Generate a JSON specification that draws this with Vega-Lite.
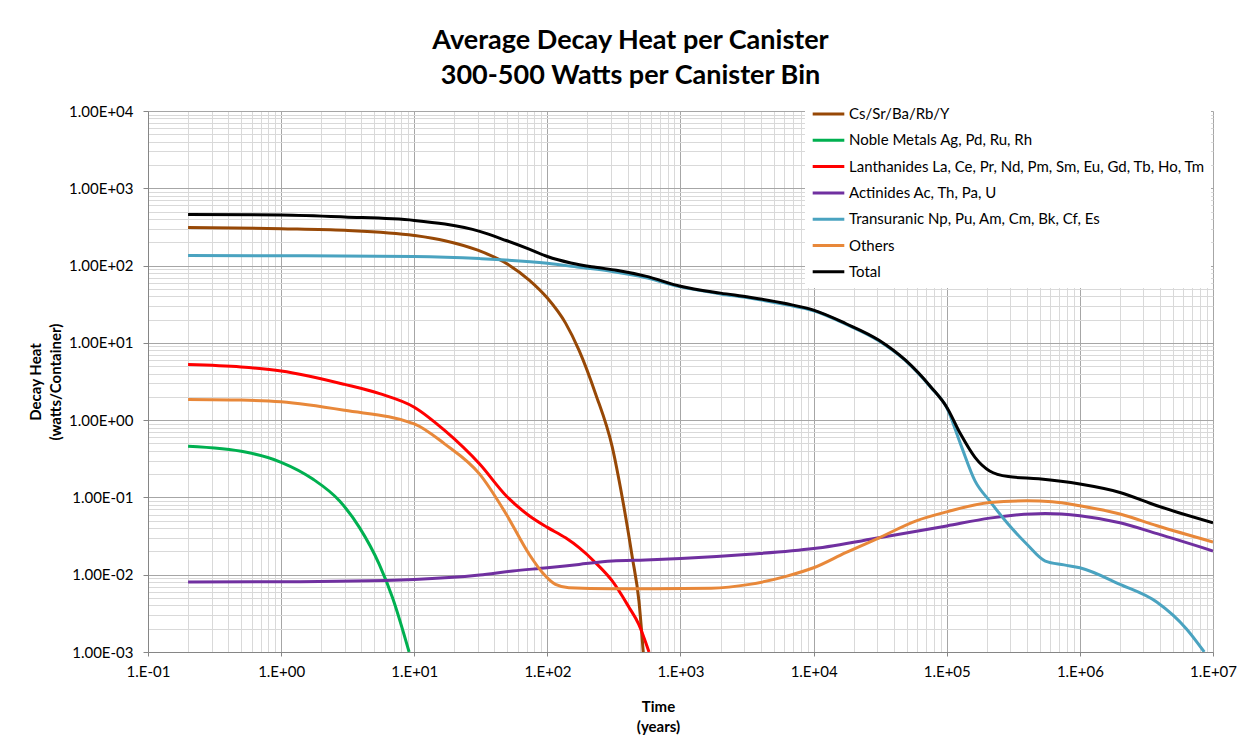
{
  "$schema": "https://vega.github.io/schema/vega-lite/v6.json",
  "width": 1065,
  "height": 541,
  "autosize": "none",
  "padding": {"left": 148, "top": 111, "right": 37, "bottom": 90},
  "background": "white",
  "title": {
    "text": ["Average Decay Heat per Canister", "300-500 Watts per Canister Bin"],
    "font": "Lato",
    "fontSize": 27,
    "fontWeight": "bold",
    "color": "#000000",
    "lineHeight": 35,
    "offset": 8,
    "dx": -50
  },
  "config": {
    "view": {"stroke": null},
    "font": "Lato"
  },
  "data": {
    "values": [
      {"s": "Cs/Sr/Ba/Rb/Y", "t": 0.2, "v": 312},
      {"s": "Cs/Sr/Ba/Rb/Y", "t": 1, "v": 300},
      {"s": "Cs/Sr/Ba/Rb/Y", "t": 3, "v": 286},
      {"s": "Cs/Sr/Ba/Rb/Y", "t": 10, "v": 245},
      {"s": "Cs/Sr/Ba/Rb/Y", "t": 17, "v": 210},
      {"s": "Cs/Sr/Ba/Rb/Y", "t": 30, "v": 158},
      {"s": "Cs/Sr/Ba/Rb/Y", "t": 50, "v": 105},
      {"s": "Cs/Sr/Ba/Rb/Y", "t": 73, "v": 65},
      {"s": "Cs/Sr/Ba/Rb/Y", "t": 100, "v": 38},
      {"s": "Cs/Sr/Ba/Rb/Y", "t": 137, "v": 18},
      {"s": "Cs/Sr/Ba/Rb/Y", "t": 173, "v": 8},
      {"s": "Cs/Sr/Ba/Rb/Y", "t": 230, "v": 2.2},
      {"s": "Cs/Sr/Ba/Rb/Y", "t": 307, "v": 0.45},
      {"s": "Cs/Sr/Ba/Rb/Y", "t": 365, "v": 0.1},
      {"s": "Cs/Sr/Ba/Rb/Y", "t": 434, "v": 0.017},
      {"s": "Cs/Sr/Ba/Rb/Y", "t": 487, "v": 0.0046},
      {"s": "Cs/Sr/Ba/Rb/Y", "t": 525, "v": 0.001},

      {"s": "Noble Metals Ag, Pd, Ru, Rh", "t": 0.2, "v": 0.459},
      {"s": "Noble Metals Ag, Pd, Ru, Rh", "t": 0.55, "v": 0.384},
      {"s": "Noble Metals Ag, Pd, Ru, Rh", "t": 1, "v": 0.285},
      {"s": "Noble Metals Ag, Pd, Ru, Rh", "t": 1.73, "v": 0.173},
      {"s": "Noble Metals Ag, Pd, Ru, Rh", "t": 2.74, "v": 0.0905},
      {"s": "Noble Metals Ag, Pd, Ru, Rh", "t": 3.87, "v": 0.041},
      {"s": "Noble Metals Ag, Pd, Ru, Rh", "t": 5.46, "v": 0.0136},
      {"s": "Noble Metals Ag, Pd, Ru, Rh", "t": 6.88, "v": 0.005},
      {"s": "Noble Metals Ag, Pd, Ru, Rh", "t": 9.15, "v": 0.001},

      {"s": "Lanthanides La, Ce, Pr, Nd, Pm, Sm, Eu, Gd, Tb, Ho, Tm", "t": 0.2, "v": 5.24},
      {"s": "Lanthanides La, Ce, Pr, Nd, Pm, Sm, Eu, Gd, Tb, Ho, Tm", "t": 0.5, "v": 4.87},
      {"s": "Lanthanides La, Ce, Pr, Nd, Pm, Sm, Eu, Gd, Tb, Ho, Tm", "t": 1, "v": 4.33},
      {"s": "Lanthanides La, Ce, Pr, Nd, Pm, Sm, Eu, Gd, Tb, Ho, Tm", "t": 3, "v": 2.9},
      {"s": "Lanthanides La, Ce, Pr, Nd, Pm, Sm, Eu, Gd, Tb, Ho, Tm", "t": 5.5, "v": 2.2},
      {"s": "Lanthanides La, Ce, Pr, Nd, Pm, Sm, Eu, Gd, Tb, Ho, Tm", "t": 10, "v": 1.47},
      {"s": "Lanthanides La, Ce, Pr, Nd, Pm, Sm, Eu, Gd, Tb, Ho, Tm", "t": 17, "v": 0.73},
      {"s": "Lanthanides La, Ce, Pr, Nd, Pm, Sm, Eu, Gd, Tb, Ho, Tm", "t": 31, "v": 0.27},
      {"s": "Lanthanides La, Ce, Pr, Nd, Pm, Sm, Eu, Gd, Tb, Ho, Tm", "t": 49, "v": 0.105},
      {"s": "Lanthanides La, Ce, Pr, Nd, Pm, Sm, Eu, Gd, Tb, Ho, Tm", "t": 73, "v": 0.058},
      {"s": "Lanthanides La, Ce, Pr, Nd, Pm, Sm, Eu, Gd, Tb, Ho, Tm", "t": 100, "v": 0.041},
      {"s": "Lanthanides La, Ce, Pr, Nd, Pm, Sm, Eu, Gd, Tb, Ho, Tm", "t": 137, "v": 0.030},
      {"s": "Lanthanides La, Ce, Pr, Nd, Pm, Sm, Eu, Gd, Tb, Ho, Tm", "t": 173, "v": 0.0224},
      {"s": "Lanthanides La, Ce, Pr, Nd, Pm, Sm, Eu, Gd, Tb, Ho, Tm", "t": 230, "v": 0.0143},
      {"s": "Lanthanides La, Ce, Pr, Nd, Pm, Sm, Eu, Gd, Tb, Ho, Tm", "t": 307, "v": 0.0083},
      {"s": "Lanthanides La, Ce, Pr, Nd, Pm, Sm, Eu, Gd, Tb, Ho, Tm", "t": 410, "v": 0.0038},
      {"s": "Lanthanides La, Ce, Pr, Nd, Pm, Sm, Eu, Gd, Tb, Ho, Tm", "t": 485, "v": 0.0023},
      {"s": "Lanthanides La, Ce, Pr, Nd, Pm, Sm, Eu, Gd, Tb, Ho, Tm", "t": 580, "v": 0.001},

      {"s": "Actinides Ac, Th, Pa, U", "t": 0.2, "v": 0.00804},
      {"s": "Actinides Ac, Th, Pa, U", "t": 1, "v": 0.0081},
      {"s": "Actinides Ac, Th, Pa, U", "t": 10, "v": 0.0087},
      {"s": "Actinides Ac, Th, Pa, U", "t": 31, "v": 0.0099},
      {"s": "Actinides Ac, Th, Pa, U", "t": 55, "v": 0.0112},
      {"s": "Actinides Ac, Th, Pa, U", "t": 100, "v": 0.0123},
      {"s": "Actinides Ac, Th, Pa, U", "t": 173, "v": 0.0136},
      {"s": "Actinides Ac, Th, Pa, U", "t": 307, "v": 0.015},
      {"s": "Actinides Ac, Th, Pa, U", "t": 546, "v": 0.0155},
      {"s": "Actinides Ac, Th, Pa, U", "t": 1000, "v": 0.0162},
      {"s": "Actinides Ac, Th, Pa, U", "t": 3300, "v": 0.0184},
      {"s": "Actinides Ac, Th, Pa, U", "t": 10000, "v": 0.0218},
      {"s": "Actinides Ac, Th, Pa, U", "t": 31000, "v": 0.030},
      {"s": "Actinides Ac, Th, Pa, U", "t": 100000, "v": 0.0428},
      {"s": "Actinides Ac, Th, Pa, U", "t": 210000, "v": 0.054},
      {"s": "Actinides Ac, Th, Pa, U", "t": 550000, "v": 0.062},
      {"s": "Actinides Ac, Th, Pa, U", "t": 1000000, "v": 0.058},
      {"s": "Actinides Ac, Th, Pa, U", "t": 2000000, "v": 0.047},
      {"s": "Actinides Ac, Th, Pa, U", "t": 3800000, "v": 0.034},
      {"s": "Actinides Ac, Th, Pa, U", "t": 10000000, "v": 0.0203},

      {"s": "Transuranic Np, Pu, Am, Cm, Bk, Cf, Es", "t": 0.2, "v": 135},
      {"s": "Transuranic Np, Pu, Am, Cm, Bk, Cf, Es", "t": 1, "v": 134},
      {"s": "Transuranic Np, Pu, Am, Cm, Bk, Cf, Es", "t": 10, "v": 131},
      {"s": "Transuranic Np, Pu, Am, Cm, Bk, Cf, Es", "t": 31, "v": 123},
      {"s": "Transuranic Np, Pu, Am, Cm, Bk, Cf, Es", "t": 100, "v": 107},
      {"s": "Transuranic Np, Pu, Am, Cm, Bk, Cf, Es", "t": 173, "v": 95},
      {"s": "Transuranic Np, Pu, Am, Cm, Bk, Cf, Es", "t": 307, "v": 84},
      {"s": "Transuranic Np, Pu, Am, Cm, Bk, Cf, Es", "t": 485, "v": 73},
      {"s": "Transuranic Np, Pu, Am, Cm, Bk, Cf, Es", "t": 1000, "v": 53},
      {"s": "Transuranic Np, Pu, Am, Cm, Bk, Cf, Es", "t": 2000, "v": 43},
      {"s": "Transuranic Np, Pu, Am, Cm, Bk, Cf, Es", "t": 3300, "v": 38},
      {"s": "Transuranic Np, Pu, Am, Cm, Bk, Cf, Es", "t": 6300, "v": 31},
      {"s": "Transuranic Np, Pu, Am, Cm, Bk, Cf, Es", "t": 10000, "v": 26},
      {"s": "Transuranic Np, Pu, Am, Cm, Bk, Cf, Es", "t": 17400, "v": 17.5},
      {"s": "Transuranic Np, Pu, Am, Cm, Bk, Cf, Es", "t": 31000, "v": 10.6},
      {"s": "Transuranic Np, Pu, Am, Cm, Bk, Cf, Es", "t": 49000, "v": 5.9},
      {"s": "Transuranic Np, Pu, Am, Cm, Bk, Cf, Es", "t": 76000, "v": 2.65},
      {"s": "Transuranic Np, Pu, Am, Cm, Bk, Cf, Es", "t": 100000, "v": 1.45},
      {"s": "Transuranic Np, Pu, Am, Cm, Bk, Cf, Es", "t": 127000, "v": 0.49},
      {"s": "Transuranic Np, Pu, Am, Cm, Bk, Cf, Es", "t": 163000, "v": 0.164},
      {"s": "Transuranic Np, Pu, Am, Cm, Bk, Cf, Es", "t": 210000, "v": 0.09},
      {"s": "Transuranic Np, Pu, Am, Cm, Bk, Cf, Es", "t": 290000, "v": 0.045},
      {"s": "Transuranic Np, Pu, Am, Cm, Bk, Cf, Es", "t": 400000, "v": 0.0248},
      {"s": "Transuranic Np, Pu, Am, Cm, Bk, Cf, Es", "t": 550000, "v": 0.015},
      {"s": "Transuranic Np, Pu, Am, Cm, Bk, Cf, Es", "t": 760000, "v": 0.0134},
      {"s": "Transuranic Np, Pu, Am, Cm, Bk, Cf, Es", "t": 1000000, "v": 0.0123},
      {"s": "Transuranic Np, Pu, Am, Cm, Bk, Cf, Es", "t": 2000000, "v": 0.0075},
      {"s": "Transuranic Np, Pu, Am, Cm, Bk, Cf, Es", "t": 3800000, "v": 0.0044},
      {"s": "Transuranic Np, Pu, Am, Cm, Bk, Cf, Es", "t": 6300000, "v": 0.002},
      {"s": "Transuranic Np, Pu, Am, Cm, Bk, Cf, Es", "t": 8600000, "v": 0.001},

      {"s": "Others", "t": 0.2, "v": 1.85},
      {"s": "Others", "t": 0.5, "v": 1.82},
      {"s": "Others", "t": 1, "v": 1.73},
      {"s": "Others", "t": 3, "v": 1.34},
      {"s": "Others", "t": 10, "v": 0.896},
      {"s": "Others", "t": 17, "v": 0.49},
      {"s": "Others", "t": 31, "v": 0.20},
      {"s": "Others", "t": 49, "v": 0.061},
      {"s": "Others", "t": 73, "v": 0.0184},
      {"s": "Others", "t": 92, "v": 0.0106},
      {"s": "Others", "t": 115, "v": 0.0075},
      {"s": "Others", "t": 145, "v": 0.0068},
      {"s": "Others", "t": 300, "v": 0.0066},
      {"s": "Others", "t": 485, "v": 0.0066},
      {"s": "Others", "t": 1700, "v": 0.0067},
      {"s": "Others", "t": 3300, "v": 0.0075},
      {"s": "Others", "t": 6300, "v": 0.0096},
      {"s": "Others", "t": 10000, "v": 0.0123},
      {"s": "Others", "t": 17400, "v": 0.0193},
      {"s": "Others", "t": 31000, "v": 0.030},
      {"s": "Others", "t": 59000, "v": 0.0498},
      {"s": "Others", "t": 100000, "v": 0.065},
      {"s": "Others", "t": 210000, "v": 0.086},
      {"s": "Others", "t": 400000, "v": 0.0905},
      {"s": "Others", "t": 620000, "v": 0.088},
      {"s": "Others", "t": 1000000, "v": 0.078},
      {"s": "Others", "t": 2000000, "v": 0.061},
      {"s": "Others", "t": 3800000, "v": 0.043},
      {"s": "Others", "t": 10000000, "v": 0.0265},

      {"s": "Total", "t": 0.2, "v": 459},
      {"s": "Total", "t": 1, "v": 451},
      {"s": "Total", "t": 3, "v": 425},
      {"s": "Total", "t": 10, "v": 384},
      {"s": "Total", "t": 17, "v": 344},
      {"s": "Total", "t": 31, "v": 277},
      {"s": "Total", "t": 49, "v": 211},
      {"s": "Total", "t": 73, "v": 163},
      {"s": "Total", "t": 100, "v": 131},
      {"s": "Total", "t": 150, "v": 108},
      {"s": "Total", "t": 230, "v": 95},
      {"s": "Total", "t": 330, "v": 87},
      {"s": "Total", "t": 546, "v": 73},
      {"s": "Total", "t": 1000, "v": 54},
      {"s": "Total", "t": 2000, "v": 44},
      {"s": "Total", "t": 3300, "v": 39},
      {"s": "Total", "t": 6300, "v": 32},
      {"s": "Total", "t": 10000, "v": 26.5},
      {"s": "Total", "t": 17400, "v": 17.8},
      {"s": "Total", "t": 31000, "v": 10.8},
      {"s": "Total", "t": 49000, "v": 5.96},
      {"s": "Total", "t": 76000, "v": 2.69},
      {"s": "Total", "t": 100000, "v": 1.47},
      {"s": "Total", "t": 127000, "v": 0.66},
      {"s": "Total", "t": 163000, "v": 0.33},
      {"s": "Total", "t": 210000, "v": 0.22},
      {"s": "Total", "t": 290000, "v": 0.186},
      {"s": "Total", "t": 490000, "v": 0.174},
      {"s": "Total", "t": 1000000, "v": 0.149},
      {"s": "Total", "t": 2000000, "v": 0.116},
      {"s": "Total", "t": 3800000, "v": 0.078},
      {"s": "Total", "t": 10000000, "v": 0.047}
    ]
  },
  "mark": {"type": "line", "interpolate": "monotone", "strokeWidth": 3, "clip": true},
  "encoding": {
    "x": {
      "field": "t",
      "type": "quantitative",
      "scale": {"type": "log", "domain": [0.1, 10000000], "nice": false},
      "axis": {
        "title": ["Time", "(years)"],
        "titleFont": "Lato",
        "titleFontSize": 15,
        "titleFontWeight": "bold",
        "titleColor": "#000000",
        "titlePadding": 20,
        "titleLineHeight": 20,
        "titleX": 510,
        "values": [0.1,0.2,0.3,0.4,0.5,0.6,0.7,0.8,0.9,1,2,3,4,5,6,7,8,9,10,20,30,40,50,60,70,80,90,100,200,300,400,500,600,700,800,900,1000,2000,3000,4000,5000,6000,7000,8000,9000,10000,20000,30000,40000,50000,60000,70000,80000,90000,100000,200000,300000,400000,500000,600000,700000,800000,900000,1000000,2000000,3000000,4000000,5000000,6000000,7000000,8000000,9000000,10000000],
        "labelExpr": "abs(log(datum.value)/LN10 - round(log(datum.value)/LN10)) < 0.000001 ? '1.E' + (round(log(datum.value)/LN10) < 0 ? '-' : '+') + (abs(round(log(datum.value)/LN10)) < 10 ? '0' : '') + abs(round(log(datum.value)/LN10)) : ''",
        "labelOverlap": false,
        "labelFlush": false,
        "labelFont": "Lato",
        "labelFontSize": 15,
        "labelColor": "#000000",
        "labelPadding": 8,
        "tickSize": 4,
        "tickColor": {"condition": {"test": "abs(log(datum.value)/LN10 - round(log(datum.value)/LN10)) < 0.000001", "value": "#868686"}, "value": "transparent"},
        "domainColor": "#868686",
        "grid": true,
        "gridColor": {"condition": {"test": "abs(log(datum.value)/LN10 - round(log(datum.value)/LN10)) < 0.000001", "value": "#a6a6a6"}, "value": "#d9d9d9"},
        "gridWidth": 1
      }
    },
    "y": {
      "field": "v",
      "type": "quantitative",
      "scale": {"type": "log", "domain": [0.001, 10000], "nice": false},
      "axis": {
        "title": ["Decay Heat", "(watts/Container)"],
        "titleFont": "Lato",
        "titleFontSize": 15,
        "titleFontWeight": "bold",
        "titleColor": "#000000",
        "titlePadding": 5,
        "titleLineHeight": 20,
        "values": [0.001,0.002,0.003,0.004,0.005,0.006,0.007,0.008,0.009,0.01,0.02,0.03,0.04,0.05,0.06,0.07,0.08,0.09,0.1,0.2,0.3,0.4,0.5,0.6,0.7,0.8,0.9,1,2,3,4,5,6,7,8,9,10,20,30,40,50,60,70,80,90,100,200,300,400,500,600,700,800,900,1000,2000,3000,4000,5000,6000,7000,8000,9000,10000],
        "labelExpr": "abs(log(datum.value)/LN10 - round(log(datum.value)/LN10)) < 0.000001 ? '1.00E' + (round(log(datum.value)/LN10) < 0 ? '-' : '+') + (abs(round(log(datum.value)/LN10)) < 10 ? '0' : '') + abs(round(log(datum.value)/LN10)) : ''",
        "labelOverlap": false,
        "labelFlush": false,
        "labelFont": "Lato",
        "labelFontSize": 15,
        "labelColor": "#000000",
        "labelPadding": 10,
        "tickSize": 5,
        "tickColor": {"condition": {"test": "abs(log(datum.value)/LN10 - round(log(datum.value)/LN10)) < 0.000001", "value": "#868686"}, "value": "transparent"},
        "domainColor": "#868686",
        "grid": true,
        "gridColor": {"condition": {"test": "abs(log(datum.value)/LN10 - round(log(datum.value)/LN10)) < 0.000001", "value": "#a6a6a6"}, "value": "#d9d9d9"},
        "gridWidth": 1
      }
    },
    "color": {
      "field": "s",
      "type": "nominal",
      "scale": {
        "domain": ["Cs/Sr/Ba/Rb/Y", "Noble Metals Ag, Pd, Ru, Rh", "Lanthanides La, Ce, Pr, Nd, Pm, Sm, Eu, Gd, Tb, Ho, Tm", "Actinides Ac, Th, Pa, U", "Transuranic Np, Pu, Am, Cm, Bk, Cf, Es", "Others", "Total"],
        "range": ["#974806", "#00b050", "#ff0000", "#7030a0", "#4aa3c0", "#e8883a", "#000000"]
      },
      "legend": {
        "title": null,
        "orient": "none",
        "legendX": 657,
        "legendY": -13,
        "fillColor": "#ffffff",
        "padding": 6,
        "symbolType": "stroke",
        "symbolStrokeWidth": 3,
        "symbolSize": 1000,
        "symbolOffset": 0,
        "clipHeight": 20,
        "rowPadding": 6.3,
        "labelFont": "Lato",
        "labelFontSize": 15,
        "labelColor": "#000000",
        "labelLimit": 500,
        "labelOffset": 3
      }
    }
  }
}
